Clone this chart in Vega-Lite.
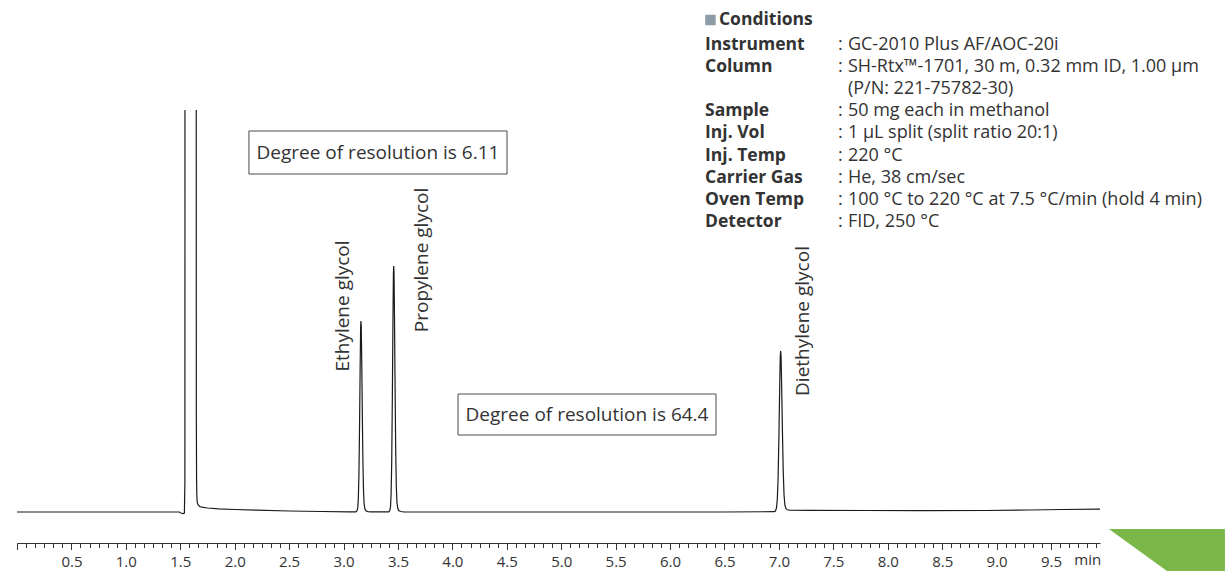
{
  "$schema": "https://vega.github.io/schema/vega-lite/v6.json",
  "width": 1083,
  "height": 433,
  "autosize": "none",
  "padding": {"left": 17, "top": 110, "right": 125, "bottom": 28},
  "background": "white",
  "config": {"view": {"stroke": null}, "font": "Open Sans"},
  "datasets": {
    "trace": [
      {"time": 0, "signal": 0},
      {"time": 0.5, "signal": 0},
      {"time": 1.0, "signal": 0},
      {"time": 1.4, "signal": 0},
      {"time": 1.49, "signal": 0},
      {"time": 1.505, "signal": -1},
      {"time": 1.528, "signal": -1.5},
      {"time": 1.538, "signal": -1},
      {"time": 1.5425, "signal": 30},
      {"time": 1.5435, "signal": 520},
      {"time": 1.595, "signal": 700},
      {"time": 1.6465, "signal": 520},
      {"time": 1.6475, "signal": 100},
      {"time": 1.65, "signal": 30},
      {"time": 1.653, "signal": 14},
      {"time": 1.657, "signal": 9},
      {"time": 1.665, "signal": 7},
      {"time": 1.678, "signal": 5.5},
      {"time": 1.7, "signal": 4.8},
      {"time": 1.75, "signal": 4.0},
      {"time": 1.85, "signal": 3.2},
      {"time": 2.0, "signal": 2.5},
      {"time": 2.2, "signal": 1.8},
      {"time": 2.5, "signal": 1.0},
      {"time": 2.8, "signal": 0.5},
      {"time": 3.05, "signal": 0.2},
      {"time": 3.114, "signal": 0.2},
      {"time": 3.123, "signal": 1},
      {"time": 3.1306, "signal": 4},
      {"time": 3.1361, "signal": 14},
      {"time": 3.1416, "signal": 38},
      {"time": 3.1471, "signal": 85},
      {"time": 3.1527, "signal": 145},
      {"time": 3.1572, "signal": 185},
      {"time": 3.16, "signal": 191},
      {"time": 3.1628, "signal": 186},
      {"time": 3.1673, "signal": 150},
      {"time": 3.1729, "signal": 95},
      {"time": 3.1784, "signal": 48},
      {"time": 3.1839, "signal": 20},
      {"time": 3.1894, "signal": 8},
      {"time": 3.1967, "signal": 3},
      {"time": 3.2059, "signal": 1.2},
      {"time": 3.2243, "signal": 0.4},
      {"time": 3.2519, "signal": 0.2},
      {"time": 3.33, "signal": 0.1},
      {"time": 3.415, "signal": 0.2},
      {"time": 3.4243, "signal": 1.3},
      {"time": 3.4316, "signal": 5},
      {"time": 3.4371, "signal": 18},
      {"time": 3.4426, "signal": 49},
      {"time": 3.4481, "signal": 110},
      {"time": 3.4537, "signal": 187},
      {"time": 3.4582, "signal": 238},
      {"time": 3.461, "signal": 246},
      {"time": 3.4638, "signal": 240},
      {"time": 3.4683, "signal": 193},
      {"time": 3.4739, "signal": 122},
      {"time": 3.4794, "signal": 62},
      {"time": 3.4849, "signal": 26},
      {"time": 3.4904, "signal": 10},
      {"time": 3.4977, "signal": 4},
      {"time": 3.5069, "signal": 1.5},
      {"time": 3.5253, "signal": 0.5},
      {"time": 3.5529, "signal": 0.2},
      {"time": 3.7, "signal": 0},
      {"time": 4.5, "signal": 0},
      {"time": 5.5, "signal": 0},
      {"time": 6.5, "signal": 0},
      {"time": 6.9563, "signal": 0.3},
      {"time": 6.9682, "signal": 1},
      {"time": 6.9774, "signal": 4},
      {"time": 6.9848, "signal": 12},
      {"time": 6.9921, "signal": 32},
      {"time": 6.9995, "signal": 72},
      {"time": 7.0068, "signal": 122},
      {"time": 7.0123, "signal": 155},
      {"time": 7.016, "signal": 161},
      {"time": 7.0197, "signal": 156},
      {"time": 7.0252, "signal": 126},
      {"time": 7.0325, "signal": 80},
      {"time": 7.0399, "signal": 40},
      {"time": 7.0472, "signal": 17},
      {"time": 7.0546, "signal": 7},
      {"time": 7.0638, "signal": 3.5},
      {"time": 7.0757, "signal": 2.2},
      {"time": 7.0987, "signal": 1.8},
      {"time": 7.3, "signal": 1.6},
      {"time": 7.8, "signal": 1.5},
      {"time": 8.3, "signal": 1.4},
      {"time": 8.9, "signal": 1.5},
      {"time": 9.3, "signal": 2.0},
      {"time": 9.6, "signal": 2.5},
      {"time": 9.95, "signal": 2.8}
    ],
    "peaks": [
      {"compound": "Ethylene glycol", "time": 2.998, "signal": 206},
      {"compound": "Propylene glycol", "time": 3.718, "signal": 252},
      {"compound": "Diethylene glycol", "time": 7.221, "signal": 191}
    ],
    "boxes": [
      {"label": "Degree of resolution is 6.11", "t_start": 2.131, "t_end": 4.502, "s_low": 338, "s_high": 381, "t_mid": 3.3165, "s_mid": 359.5},
      {"label": "Degree of resolution is 64.4", "t_start": 4.052, "t_end": 6.422, "s_low": 77, "s_high": 118, "t_mid": 5.237, "s_mid": 97.5}
    ],
    "conditions": [
      {"line": 1, "parameter": "Instrument", "value": "GC-2010 Plus AF/AOC-20i"},
      {"line": 2, "parameter": "Column", "value": "SH-Rtx™-1701, 30 m, 0.32 mm ID, 1.00 µm"},
      {"line": 3, "parameter": "", "value": "(P/N: 221-75782-30)"},
      {"line": 4, "parameter": "Sample", "value": "50 mg each in methanol"},
      {"line": 5, "parameter": "Inj. Vol", "value": "1 µL split (split ratio 20:1)"},
      {"line": 6, "parameter": "Inj. Temp", "value": "220 °C"},
      {"line": 7, "parameter": "Carrier Gas", "value": "He, 38 cm/sec"},
      {"line": 8, "parameter": "Oven Temp", "value": "100 °C to 220 °C at 7.5 °C/min (hold 4 min)"},
      {"line": 9, "parameter": "Detector", "value": "FID, 250 °C"}
    ],
    "corner": [
      {"time": 10.032, "top": -17, "bottom": -17},
      {"time": 10.565, "top": -17, "bottom": -59},
      {"time": 11.098, "top": -17, "bottom": -59}
    ]
  },
  "layer": [
    {
      "layer": [
        {
          "data": {"name": "trace"},
          "mark": {"type": "line", "clip": true, "color": "#1a1a1a", "strokeWidth": 1.2, "interpolate": "linear"},
          "encoding": {
            "x": {
              "field": "time", "type": "quantitative", "title": null,
              "scale": {"domain": [0, 9.95]},
              "axis": {
                "orient": "bottom",
                "offset": 0,
                "grid": false,
                "tickCount": 500,
                "domainColor": "#333",
                "domainWidth": 1,
                "tickColor": "#333",
                "tickWidth": 1,
                "tickSize": {"condition": {"test": "abs(datum.value*2 - round(datum.value*2)) < 0.01", "value": 6.5}, "value": 4.5},
                "labelOverlap": false,
                "labelFlush": false,
                "labelBound": false,
                "labelFont": "Open Sans",
                "labelFontSize": 15,
                "labelColor": "#333",
                "labelPadding": 5,
                "labelBaseline": "top",
                "labelExpr": "abs(datum.value - 9.8333) < 0.001 ? 'min' : ((datum.value > 0.1 && abs(datum.value*2 - round(datum.value*2)) < 0.01) ? format(datum.value, '.1f') : '')",
                "values": [0, 0.0833, 0.1667, 0.25, 0.3333, 0.4167, 0.5, 0.5833, 0.6667, 0.75, 0.8333, 0.9167, 1, 1.0833, 1.1667, 1.25, 1.3333, 1.4167, 1.5, 1.5833, 1.6667, 1.75, 1.8333, 1.9167, 2, 2.0833, 2.1667, 2.25, 2.3333, 2.4167, 2.5, 2.5833, 2.6667, 2.75, 2.8333, 2.9167, 3, 3.0833, 3.1667, 3.25, 3.3333, 3.4167, 3.5, 3.5833, 3.6667, 3.75, 3.8333, 3.9167, 4, 4.0833, 4.1667, 4.25, 4.3333, 4.4167, 4.5, 4.5833, 4.6667, 4.75, 4.8333, 4.9167, 5, 5.0833, 5.1667, 5.25, 5.3333, 5.4167, 5.5, 5.5833, 5.6667, 5.75, 5.8333, 5.9167, 6, 6.0833, 6.1667, 6.25, 6.3333, 6.4167, 6.5, 6.5833, 6.6667, 6.75, 6.8333, 6.9167, 7, 7.0833, 7.1667, 7.25, 7.3333, 7.4167, 7.5, 7.5833, 7.6667, 7.75, 7.8333, 7.9167, 8, 8.0833, 8.1667, 8.25, 8.3333, 8.4167, 8.5, 8.5833, 8.6667, 8.75, 8.8333, 8.9167, 9, 9.0833, 9.1667, 9.25, 9.3333, 9.4167, 9.5, 9.5833, 9.6667, 9.75, 9.8333, 9.9167]
              }
            },
            "y": {"field": "signal", "type": "quantitative", "scale": {"domain": [-31, 402]}, "axis": null}
          }
        },
        {
          "data": {"name": "boxes"},
          "mark": {"type": "rect", "fill": "transparent", "stroke": "#4a4a4a", "strokeWidth": 1},
          "encoding": {
            "x": {"field": "t_start", "type": "quantitative", "title": null, "scale": {"domain": [0, 9.95]}},
            "x2": {"field": "t_end"},
            "y": {"field": "s_low", "type": "quantitative", "scale": {"domain": [-31, 402]}, "axis": null},
            "y2": {"field": "s_high"}
          }
        },
        {
          "data": {"name": "boxes"},
          "mark": {"type": "text", "font": "Open Sans", "fontSize": 19, "color": "#333", "align": "center", "baseline": "middle"},
          "encoding": {
            "x": {"field": "t_mid", "type": "quantitative", "title": null, "scale": {"domain": [0, 9.95]}},
            "y": {"field": "s_mid", "type": "quantitative", "scale": {"domain": [-31, 402]}, "axis": null},
            "text": {"field": "label"}
          }
        },
        {
          "data": {"name": "peaks"},
          "mark": {"type": "text", "font": "Open Sans", "fontSize": 19, "color": "#333", "align": "center", "baseline": "middle", "angle": 270},
          "encoding": {
            "x": {"field": "time", "type": "quantitative", "title": null, "scale": {"domain": [0, 9.95]}},
            "y": {"field": "signal", "type": "quantitative", "scale": {"domain": [-31, 402]}, "axis": null},
            "text": {"field": "compound"}
          }
        },
        {
          "data": {"name": "corner"},
          "mark": {"type": "area", "color": "#7ab648", "opacity": 1},
          "encoding": {
            "x": {"field": "time", "type": "quantitative", "title": null, "scale": {"domain": [0, 9.95]}},
            "y": {"field": "top", "type": "quantitative", "scale": {"domain": [-31, 402]}, "axis": null},
            "y2": {"field": "bottom"}
          }
        }
      ]
    },
    {
      "layer": [
        {
          "data": {"values": [{"heading": "Conditions"}]},
          "mark": {"type": "point", "shape": "square", "filled": true, "size": 110, "color": "#8d9ca6", "opacity": 1},
          "encoding": {
            "x": {"datum": 6.371, "type": "quantitative", "scale": {"domain": [0, 9.95]}},
            "y": {"datum": -0.13, "type": "quantitative", "scale": {"domain": [3.938, 23.509], "reverse": true}, "axis": null}
          }
        },
        {
          "data": {"values": [{"heading": "Conditions"}]},
          "mark": {"type": "text", "font": "Open Sans", "fontWeight": "bold", "fontSize": 17.5, "color": "#333", "align": "left", "baseline": "middle"},
          "encoding": {
            "x": {"datum": 6.449, "type": "quantitative", "scale": {"domain": [0, 9.95]}},
            "y": {"datum": -0.13, "type": "quantitative", "scale": {"domain": [3.938, 23.509], "reverse": true}, "axis": null},
            "text": {"field": "heading"}
          }
        },
        {
          "data": {"name": "conditions"},
          "mark": {"type": "text", "font": "Open Sans", "fontWeight": "bold", "fontSize": 17.5, "color": "#333", "align": "left", "baseline": "middle"},
          "encoding": {
            "x": {"datum": 6.321, "type": "quantitative", "scale": {"domain": [0, 9.95]}},
            "y": {"field": "line", "type": "quantitative", "scale": {"domain": [3.938, 23.509], "reverse": true}, "axis": null},
            "text": {"field": "parameter"}
          }
        },
        {
          "data": {"name": "conditions"},
          "transform": [{"filter": "datum.parameter != ''"}],
          "mark": {"type": "text", "font": "Open Sans", "fontSize": 18, "color": "#333", "align": "left", "baseline": "middle"},
          "encoding": {
            "x": {"datum": 7.543, "type": "quantitative", "scale": {"domain": [0, 9.95]}},
            "y": {"field": "line", "type": "quantitative", "scale": {"domain": [3.938, 23.509], "reverse": true}, "axis": null},
            "text": {"value": ":"}
          }
        },
        {
          "data": {"name": "conditions"},
          "mark": {"type": "text", "font": "Open Sans", "fontSize": 18, "color": "#333", "align": "left", "baseline": "middle"},
          "encoding": {
            "x": {"datum": 7.634, "type": "quantitative", "scale": {"domain": [0, 9.95]}},
            "y": {"field": "line", "type": "quantitative", "scale": {"domain": [3.938, 23.509], "reverse": true}, "axis": null},
            "text": {"field": "value"}
          }
        }
      ]
    }
  ],
  "resolve": {"scale": {"y": "independent"}}
}
